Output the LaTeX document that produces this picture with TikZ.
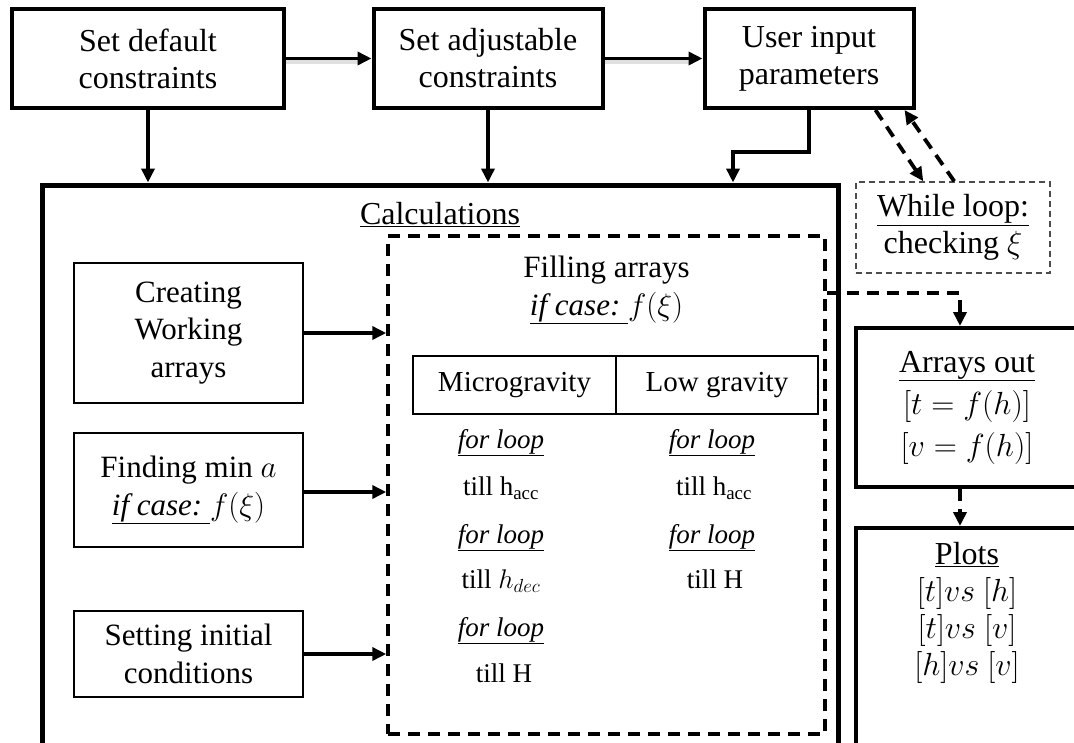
\RequirePackage{fix-cm}
\documentclass[tikz,border=0pt]{standalone}
\usepackage{fontspec}
\setmainfont{Liberation Serif}
\usetikzlibrary{arrows.meta,calc}

\tikzset{
  txt/.style={font=\fontsize{32}{37}\selectfont},
  topbox/.style={draw, line width=4pt, inner sep=0pt, align=center, txt},
  thinbox/.style={draw, line width=1.4pt, inner sep=0pt, align=center, font=\fontsize{31}{37.5}\selectfont},
  cell/.style={draw, line width=1.4pt, inner sep=0pt, font=\fontsize{29}{34}\selectfont},
  rowtxt/.style={inner sep=0pt, anchor=base, font=\fontsize{27}{32}\selectfont},
  arr/.style={line width=3.5pt, -{Triangle[length=14pt,width=13pt]}},
  dasharr/.style={line width=3.8pt, dash pattern=on 12pt off 8pt, -{Triangle[length=14pt,width=13pt]}},
  bigdash/.style={draw, line width=3.5pt, dash pattern=on 12pt off 8pt},
  shade/.style={line width=5pt, black!12, transform canvas={yshift=-2.5pt}},
}

\begin{document}
\begin{tikzpicture}[x=1pt, y=-1pt]
\useasboundingbox (0,0) rectangle (1074,742);
\clip (0,0) rectangle (1074,742);

% top row
\node[topbox, minimum width=272pt, minimum height=99pt] (b1) at (148,58.5) {Set default\\constraints};
\node[topbox, minimum width=229pt, minimum height=99pt] (b2) at (488,58.5) {Set adjustable\\constraints};
\node[topbox, minimum width=209pt, minimum height=99pt] (b3) at (809,58.5) {User input\\parameters};

% while loop check
\node[draw=black!70, line width=1.5pt, dash pattern=on 6pt off 4pt, inner sep=0pt, align=center, txt,
      minimum width=194pt, minimum height=91pt] (wl) at (953,227.5) {\underline{While loop:}\\checking $\xi$};

% main calculation block
\node[draw, line width=5pt, minimum width=796pt, minimum height=620pt] (main) at (440,495) {};
\node[txt, inner sep=0pt, anchor=base] (calc) at (440,224) {\underline{Calculations}};

% preparation steps
\node[thinbox, minimum width=229pt, minimum height=140pt] (cw) at (188.5,333) {Creating\\Working\\arrays};
\node[thinbox, minimum width=229pt, minimum height=114pt] (fm) at (188.5,490) {Finding min $a$\\\underline{\textit{if case:~}}$f(\xi)$};
\node[thinbox, minimum width=229pt, minimum height=86pt] (si) at (188.5,654) {Setting initial\\conditions};

% filling arrays block
\node[bigdash, minimum width=437pt, minimum height=498pt] (fill) at (606.5,485) {};
\node[inner sep=0pt, anchor=base, font=\fontsize{31}{37}\selectfont] (ft) at (606.5,277) {Filling arrays};
\node[inner sep=0pt, anchor=base, font=\fontsize{31}{37}\selectfont] (fc) at (606.5,315) {\underline{\textit{if case:~}}$f(\xi)$};

\node[cell, minimum width=203pt, minimum height=58pt] (micro) at (514.5,385) {Microgravity};
\node[cell, minimum width=202pt, minimum height=58pt] (low) at (717,385) {Low gravity};

% microgravity loops
\node[rowtxt] (m1) at (501,448) {\underline{\textit{for loop}}};
\node[rowtxt] (m2) at (501,495) {till h\textsubscript{acc}};
\node[rowtxt] (m3) at (501,543) {\underline{\textit{for loop}}};
\node[rowtxt] (m4) at (501,588) {till $h_{dec}$};
\node[rowtxt] (m5) at (501,636) {\underline{\textit{for loop}}};
\node[rowtxt] (m6) at (504,682) {till H};

% low gravity loops
\node[rowtxt] (l1) at (712,448) {\underline{\textit{for loop}}};
\node[rowtxt] (l2) at (714,495) {till h\textsubscript{acc}};
\node[rowtxt] (l3) at (712,543) {\underline{\textit{for loop}}};
\node[rowtxt] (l4) at (715,588) {till H};

% outputs
\node[draw, line width=4pt, inner sep=0pt, align=center, font=\fontsize{32}{42}\selectfont,
      minimum width=222pt, minimum height=159pt] (aout) at (967,407.5)
      {\underline{Arrays out}\\$[t=f(h)]$\\$[v=f(h)]$};
\node[draw, line width=4pt, minimum width=222pt, minimum height=272pt] (plots) at (967,664) {};
\node[txt, inner sep=0pt, align=center] (pt) at (967,613)
      {\underline{Plots}\\$[t]vs~[h]$\\$[t]vs~[v]$\\$[h]vs~[v]$};

% connectors along the top
\draw[shade] (b1.east) -- ([xshift=-10pt]b2.west);
\draw[shade] (b2.east) -- ([xshift=-10pt]b3.west);
\draw[arr] (b1.east) -- (b2.west);
\draw[arr] (b2.east) -- (b3.west);
\draw[arr] (b1.south) -- (b1.south |- main.north);
\draw[arr] (b2.south) -- (b2.south |- main.north);
\draw[arr] (b3.south) -- ++(0,42) -| ([xshift=293pt]main.north);

% while loop exchange
\draw[dasharr] ([xshift=-40pt]b3.south east) -- ([xshift=68pt]wl.north west);
\draw[dasharr] ([xshift=99pt]wl.north west) -- ([xshift=-11pt]b3.south east);

% inputs to the filling block
\draw[arr] (cw.east) -- (cw.east -| fill.west);
\draw[arr] ([yshift=-2pt]fm.east) -- ([yshift=-2pt]fm.east -| fill.west);
\draw[arr] (si.east) -- (si.east -| fill.west);

% results
\draw[dasharr] (fill.east |- 0,293) -| ([xshift=-7pt]aout.north);
\draw[dasharr] ([xshift=-7pt]aout.south) -- ([xshift=-7pt]plots.north);
\end{tikzpicture}
\end{document}
